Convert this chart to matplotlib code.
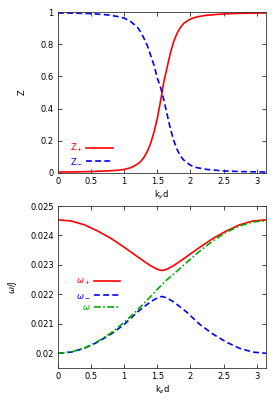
import matplotlib
matplotlib.use("Agg")
import matplotlib.pyplot as plt
import numpy as np

# top panel: Z+ / Z- vs k_y d
ky = [0.0, 0.25, 0.5, 0.75, 0.9, 1.0, 1.1, 1.2, 1.25, 1.3, 1.35, 1.4, 1.45, 1.5, 1.55, 1.5708,
      1.6, 1.65, 1.7, 1.75, 1.8, 1.85, 1.9, 2.0, 2.1, 2.25, 2.5, 2.75, 3.1416]
z_plus = [0.006, 0.007, 0.009, 0.013, 0.017, 0.022, 0.033, 0.055, 0.072, 0.098, 0.135, 0.185, 0.255, 0.34, 0.45, 0.5,
          0.57, 0.66, 0.75, 0.82, 0.87, 0.905, 0.93, 0.957, 0.97, 0.98, 0.988, 0.992, 0.994]
z_minus = [0.994, 0.993, 0.99, 0.982, 0.972, 0.962, 0.94, 0.905, 0.875, 0.835, 0.79, 0.73, 0.67, 0.59, 0.53, 0.5,
           0.45, 0.36, 0.27, 0.2, 0.145, 0.105, 0.08, 0.048, 0.033, 0.022, 0.013, 0.009, 0.006]

# bottom panel: omega / J vs k_z d
kz = [0.0, 0.2, 0.4, 0.6, 0.8, 1.0, 1.2, 1.3, 1.4, 1.5, 1.5708,
      1.6416, 1.7416, 1.8416, 1.9416, 2.1416, 2.3416, 2.5416, 2.7416, 2.9416, 3.1416]
w_plus = [0.02453, 0.02449, 0.02436, 0.02415, 0.02390, 0.02360, 0.02328, 0.02312, 0.02297, 0.02285, 0.02281,
          0.02285, 0.02297, 0.02312, 0.02328, 0.02360, 0.02390, 0.02415, 0.02436, 0.02449, 0.02453]
w_minus = [0.02000, 0.02004, 0.02017, 0.02038, 0.02065, 0.02098, 0.02140, 0.02158, 0.02175, 0.02188, 0.02193,
           0.02188, 0.02175, 0.02158, 0.02140, 0.02098, 0.02065, 0.02038, 0.02017, 0.02004, 0.02000]
w_mid = [0.02000, 0.020045, 0.02018, 0.02040, 0.02069, 0.02105, 0.02147, 0.02170, 0.02193, 0.02217, 0.02233,
         0.02249, 0.02268, 0.02288, 0.02308, 0.02347, 0.02382, 0.02411, 0.02432, 0.02446, 0.02450]

plt.rcParams["font.family"] = "DejaVu Sans"
plt.rcParams["font.size"] = 6

fig = plt.figure(figsize=(2.8, 4.0), dpi=100)
ax1 = fig.add_axes([58/280, 1-173/400, 208/280, 161/400])
ax2 = fig.add_axes([58/280, 1-368/400, 208/280, 162/400])

def style(ax):
    ax.set_xlim(0, np.pi)
    ax.set_xticks([0, 0.5, 1, 1.5, 2, 2.5, 3], ["0", "0.5", "1", "1.5", "2", "2.5", "3"])
    ax.tick_params(direction="in", top=True, right=True, length=3, width=0.5, labelsize=6, pad=3)
    for s in ax.spines.values():
        s.set_linewidth(0.6)
        s.set_color("#333333")

ax1.plot(ky, z_plus, color="#ff0000", lw=1.2, label=r"Z$_+$")
ax1.plot(ky, z_minus, color="#0000ff", lw=1.2, ls=(0, (3.5, 2)), label=r"Z$_-$")
ax1.set_ylim(0, 1)
ax1.set_yticks([0, 0.2, 0.4, 0.6, 0.8, 1], ["0", "0.2", "0.4", "0.6", "0.8", "1"])
style(ax1)
ax1.set_xlabel(r"k$_y$d", labelpad=2)
ax1.set_ylabel("Z", labelpad=10)
leg = ax1.legend(loc="lower left", bbox_to_anchor=(0.02, -0.005), frameon=False, markerfirst=False,
                 handlelength=3.2, handletextpad=0.4, labelspacing=0.25, fontsize=6)
for t, c in zip(leg.get_texts(), ["#ff0000", "#0000ff"]):
    t.set_color(c)

ax2.plot(kz, w_plus, color="#ff0000", lw=1.2, label=r"$\omega_+$")
ax2.plot(kz, w_minus, color="#0000ff", lw=1.2, ls=(0, (3.5, 2)), label=r"$\omega_-$")
ax2.plot(kz, w_mid, color="#00aa00", lw=1.2, ls=(0, (4, 1.5, 1, 1.5)), label=r"$\omega$")
ax2.set_ylim(0.0195, 0.025)
ax2.set_yticks([0.02, 0.021, 0.022, 0.023, 0.024, 0.025], ["0.02", "0.021", "0.022", "0.023", "0.024", "0.025"])
style(ax2)
ax2.set_xlabel(r"k$_z$d", labelpad=2)
ax2.set_ylabel(r"$\omega$/J", labelpad=8)
leg2 = ax2.legend(loc="upper left", bbox_to_anchor=(0.05, 0.61), frameon=False, markerfirst=False,
                  handlelength=3.2, handletextpad=0.4, labelspacing=0.4, fontsize=6)
for t, c in zip(leg2.get_texts(), ["#ff0000", "#0000ff", "#00aa00"]):
    t.set_color(c)

fig.savefig("out.png", dpi=100)
